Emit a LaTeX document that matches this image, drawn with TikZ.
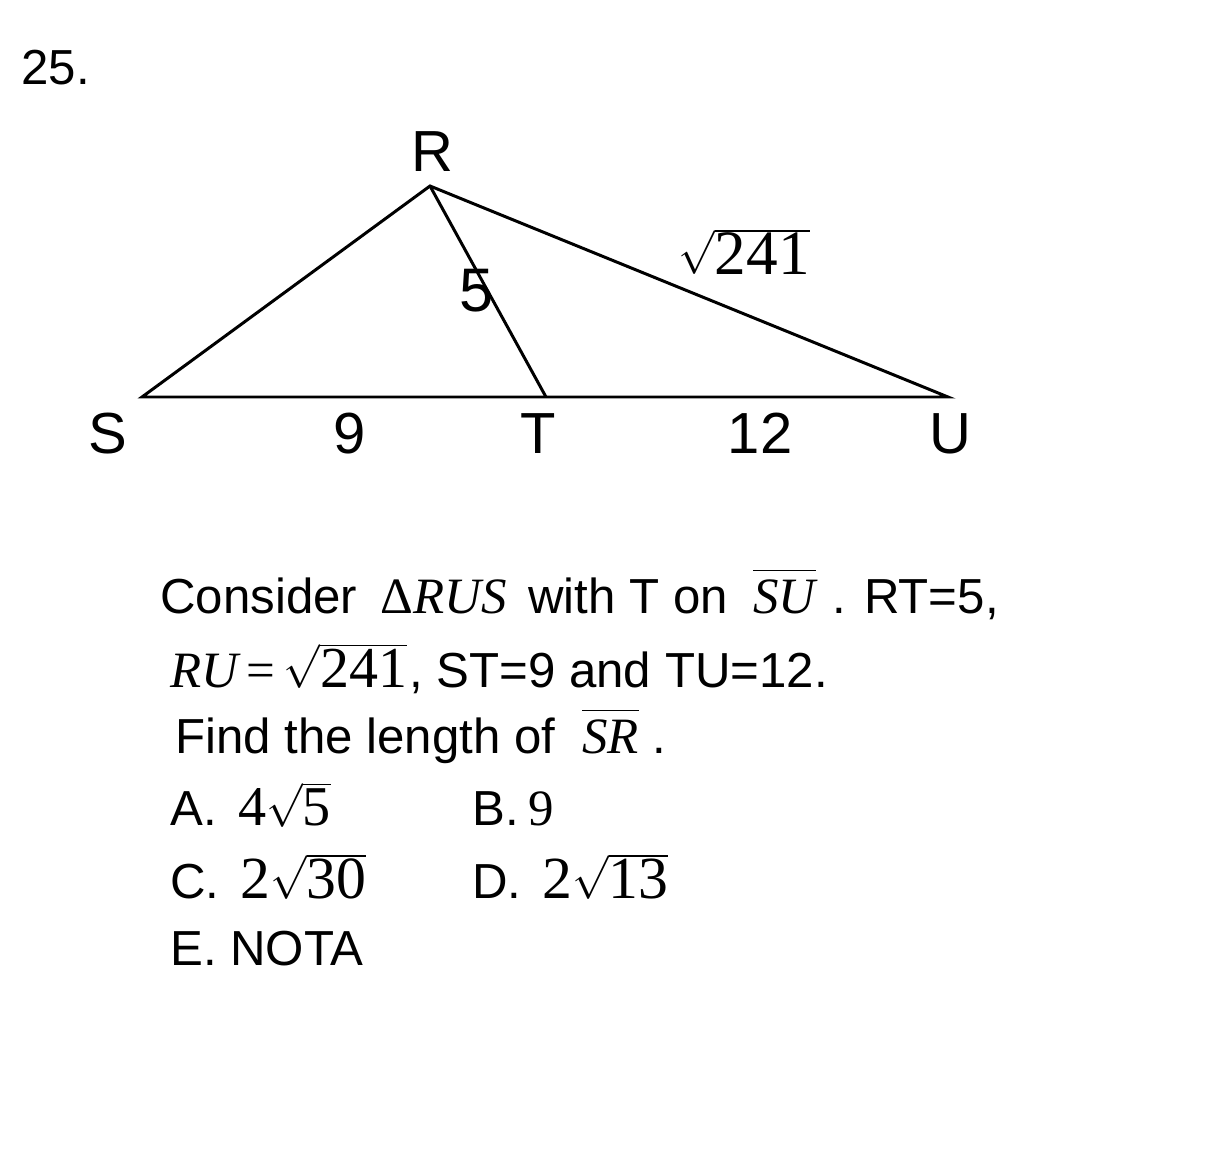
\documentclass[tikz,border=0pt]{standalone}
\usepackage{fontspec}
\setmainfont{Liberation Sans}
\newfontfamily\serif{Liberation Serif}
\usetikzlibrary{positioning}
\tikzset{
  side/.style={line width=1.7pt, line join=miter},
  vlabel/.style={font=\fontsize{33}{36}\selectfont, anchor=base, inner sep=0pt},
  txt/.style={font=\fontsize{28}{32}\selectfont, anchor=base west, inner sep=0pt},
  eq/.style={font=\fontsize{29}{32}\selectfont\serif, anchor=base west, inner sep=0pt},
}
% italic serif letters, a segment bar, and a radical set at its own size
\newcommand\vr[1]{\mbox{\serif\itshape #1}}
\newcommand\seg[1]{$\overline{\rule{0pt}{23pt}\vr{#1}}$}
\newcommand\rt[2][35]{{\fontsize{#1}{#1}\selectfont$\sqrt{\mbox{\serif #2}}$}}

\begin{document}
\begin{tikzpicture}[x=0.02cm, y=-0.02cm]
      \useasboundingbox (0, 0) rectangle (1220, 1162);
      \node [txt] (num) at (21, 85) {25.};

      % triangle
      \coordinate (S) at (142, 397);
      \coordinate (R) at (430, 186);
      \coordinate (T) at (546, 397);
      \coordinate (U) at (948, 397);
      \draw [side] (S) -- (R) -- (U) -- cycle;
      \draw [side] (R) -- (T);

      \node [vlabel] (lR) at (432, 172) {R};
      \node [vlabel] (lS) at (108, 453) {S};
      \node [vlabel] (lT) at (538, 453) {T};
      \node [vlabel] (lU) at (950, 453) {U};
      \node [vlabel] (lST) at (350, 453) {9};
      \node [vlabel] (lTU) at (760, 453) {12};
      \node [vlabel, font=\fontsize{35}{38}\selectfont] (lRT) at (477, 311) {5};
      \node [eq] (lRU) at (678, 275) {\rt[36]{241}};

      % question
      \node [txt] (q1a) at (160, 613) {Consider};
      \node [eq] (q1b) at (380, 613) {Δ\itshape RUS};
      \node [txt] (q1c) at (528, 613) {with T on};
      \node [eq] (q1d) at (753, 613) {\seg{SU}};
      \node [txt] (q1e) at (832, 613) {. RT=5,};

      \node [eq] (q2a) at (170, 687) {\vr{RU}\,=\,\rt[33]{241}};
      \node [txt] (q2b) at (409, 687) {, ST=9 and TU=12.};

      \node [txt] (q3a) at (175, 753) {Find the length of};
      \node [eq] (q3b) at (582, 753) {\seg{SR}};
      \node [txt] (q3c) at (652, 753) {.};

      % choices
      \node [txt] (oA) at (170, 825) {A.};
      \node [eq, font=\fontsize{32}{36}\selectfont\serif] (vA) at (238, 825) {4\rt[32]{5}};
      \node [txt] (oB) at (472, 825) {B.};
      \node [eq] (vB) at (528, 825) {9};
      \node [txt] (oC) at (170, 898) {C.};
      \node [eq, font=\fontsize{34}{36}\selectfont\serif] (vC) at (240, 898) {2\rt[34]{30}};
      \node [txt] (oD) at (472, 898) {D.};
      \node [eq, font=\fontsize{34}{36}\selectfont\serif] (vD) at (542, 898) {2\rt[34]{13}};
      \node [txt] (oE) at (170, 965) {E. NOTA};
    \end{tikzpicture}
\end{document}
